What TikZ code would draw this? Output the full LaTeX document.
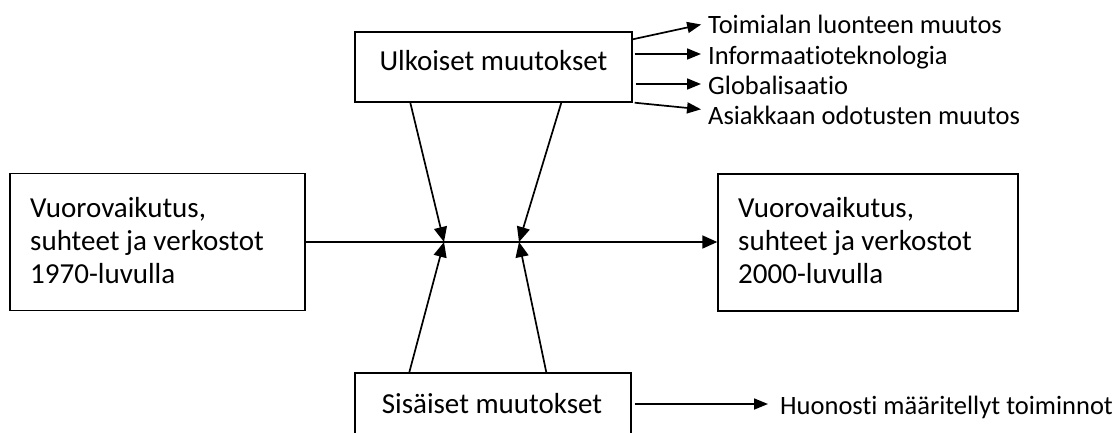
\documentclass[tikz,border=0pt]{standalone}
\usepackage{fontspec}
\setmainfont{Carlito}[Ligatures=NoCommon]
\usetikzlibrary{arrows.meta}
\begin{document}
\begin{tikzpicture}[x=1pt,y=-1pt,
  box/.style={draw, line width=1.4pt, rectangle, inner sep=0pt},
  big/.style={font=\fontsize{29}{33}\selectfont, inner sep=0pt},
  small/.style={font=\fontsize{26.5}{30}\selectfont, inner sep=0pt, text height=20pt, text depth=0pt, anchor=west},
  arr/.style={line width=1.7pt, -{Triangle[length=15pt,width=13pt]}},
  sarr/.style={line width=1.7pt, -{Triangle[length=14pt,width=11pt]}, shorten >=7pt}]
\useasboundingbox (0,0) rectangle (1118,432);
% boxes
\node[box, minimum width=277, minimum height=70] (ulk) at (493.5,67) {};
\node[box, minimum width=295, minimum height=137] (vl) at (157.5,242) {};
\node[box, minimum width=300, minimum height=137] (vr) at (868,242.5) {};
\node[box, minimum width=276, minimum height=70] (sis) at (493,408) {};
% box texts
\node[big, anchor=base] (ulkt) at (493.5,70) {Ulkoiset muutokset};
\node[big, anchor=west, align=left] (vlt) at (30,241) {Vuorovaikutus,\\suhteet ja verkostot\\1970-luvulla};
\node[big, anchor=west, align=left] (vrt) at (738,241) {Vuorovaikutus,\\suhteet ja verkostot\\2000-luvulla};
\node[big, anchor=base] (sist) at (492,413) {Sisäiset muutokset};
% side texts
\node[small] (t1) at (708,23) {Toimialan luonteen muutos};
\node[small] (t2) at (708,54) {Informaatioteknologia};
\node[small] (t3) at (708,84) {Globalisaatio};
\node[small] (t4) at (708,114) {Asiakkaan odotusten muutos};
\node[small] (hu) at (780,404) {Huonosti määritellyt toiminnot};
% junctions
\coordinate (j1) at (444,242);
\coordinate (j2) at (519,242);
% connectors
\draw[arr] (vl.east) -- (vr.west |- vl.east);
\draw[arr] ([xshift=56pt]ulk.south west) -- (j1);
\draw[arr] ([xshift=207pt]ulk.south west) -- (j2);
\draw[arr] ([xshift=55pt]sis.north west) -- (j1);
\draw[arr] ([xshift=192pt]sis.north west) -- (j2);
\draw[sarr] ([yshift=-8pt]ulk.north east) -- (t1.west);
\draw[sarr] ([xshift=2pt]ulk.east |- t2.west) -- (t2.west);
\draw[sarr] ([xshift=3pt]ulk.east |- t3.west) -- (t3.west);
\draw[sarr] ([xshift=2pt]ulk.south east) -- ([yshift=4pt]t4.west);
\draw[sarr, shorten >=12pt] ([xshift=3pt]sis.east |- hu.west) -- (hu.west);
\end{tikzpicture}
\end{document}
